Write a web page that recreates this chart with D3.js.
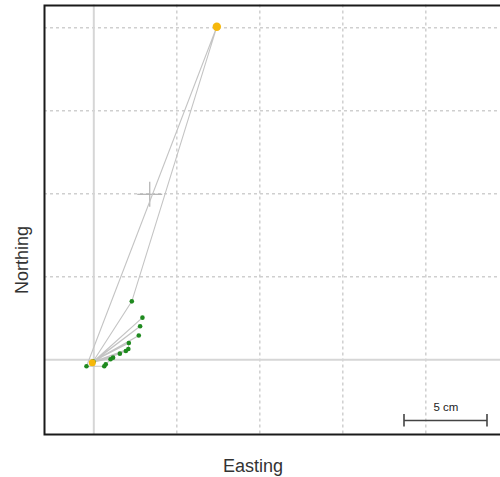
<!DOCTYPE html>
<html>
<head>
<meta charset="utf-8">
<script src="https://cdn.jsdelivr.net/npm/d3@7"></script>
<style>
    body { margin: 0; background: #fff; }
    .axis-title { font-family: "Liberation Sans", Arial, sans-serif; font-size: 18px; fill: #333; }
</style>
</head>
<body>
<div id="chart"></div>
<script>
// positions in time order (cm)
let easting  = [-0.09, 2.93, -0.05, 2.79, -0.04, 2.71, -0.06, 2.11, 2.08, -0.02, 1.93, 1.57, -0.05, 1.16, 1.01, 0.72, 0.63, -0.44, 7.41, 2.29, -0.08]
let northing = [-0.18, 2.54, -0.12, 2.02, -0.14, 1.46, -0.10, 1.01, 0.65, -0.12, 0.53, 0.37, -0.14, 0.13, 0.03, -0.27, -0.39, -0.39, 20.06, 3.52, -0.16]
// flagged readings drawn in orange
let flagged = [0, 18]

// reference crosshair
let crossE = 3.37
let crossN = 9.97

let gridTicks = [5, 10, 15, 20]
let scaleBarCm = 5

var width = 500,
    height = 477;

let xScale = d3.scaleLinear()
    .domain([-3, 24.5])
    .range([44, 500.5])

let yScale = d3.scaleLinear()
    .domain([-4.5, 21.4])
    .range([434.5, 4.56])

let svg = d3.select("#chart")
    .append("svg")
    .attr("width", width)
    .attr("height", height)

// dotted grid
svg.append("g")
    .selectAll("line")
    .data(gridTicks)
    .enter()
    .append("line")
    .attr("x1", d => xScale(d))
    .attr("x2", d => xScale(d))
    .attr("y1", yScale(21.4))
    .attr("y2", yScale(-4.5))
    .style("stroke", "#cfcfcf")
    .style("stroke-width", 1.5)
    .style("stroke-dasharray", "3,3")

svg.append("g")
    .selectAll("line")
    .data(gridTicks)
    .enter()
    .append("line")
    .attr("x1", xScale(-3))
    .attr("x2", xScale(24.5))
    .attr("y1", d => yScale(d))
    .attr("y2", d => yScale(d))
    .style("stroke", "#cfcfcf")
    .style("stroke-width", 1.5)
    .style("stroke-dasharray", "3,3")

// zero lines
svg.append("line")
    .attr("x1", xScale(0)).attr("x2", xScale(0))
    .attr("y1", yScale(21.4)).attr("y2", yScale(-4.5))
    .style("stroke", "#d6d6d6")
    .style("stroke-width", 2)

svg.append("line")
    .attr("x1", xScale(-3)).attr("x2", xScale(24.5))
    .attr("y1", yScale(0)).attr("y2", yScale(0))
    .style("stroke", "#d6d6d6")
    .style("stroke-width", 2)

// crosshair
svg.append("line")
    .attr("x1", xScale(crossE) - 12.5).attr("x2", xScale(crossE) + 12.5)
    .attr("y1", yScale(crossN)).attr("y2", yScale(crossN))
    .style("stroke", "#b0b0b0")
    .style("stroke-width", 1.2)
svg.append("line")
    .attr("x1", xScale(crossE)).attr("x2", xScale(crossE))
    .attr("y1", yScale(crossN) - 12.5).attr("y2", yScale(crossN) + 12.5)
    .style("stroke", "#b0b0b0")
    .style("stroke-width", 1.2)

let points = easting.map((e, i) => ({ e: e, n: northing[i], flag: flagged.includes(i) }))

// track
let line = d3.line()
    .x(d => xScale(d.e))
    .y(d => yScale(d.n))

svg.append("path")
    .datum(points)
    .attr("d", line)
    .style("fill", "none")
    .style("stroke", "#c4c4c4")
    .style("stroke-width", 1.1)

svg.append("g")
    .selectAll("circle")
    .data(points.filter(d => !d.flag))
    .enter()
    .append("circle")
    .attr("cx", d => xScale(d.e))
    .attr("cy", d => yScale(d.n))
    .attr("r", 2.3)
    .style("fill", "#1f8a1f")

svg.append("g")
    .selectAll("circle")
    .data(points.filter(d => d.flag))
    .enter()
    .append("circle")
    .attr("cx", d => xScale(d.e))
    .attr("cy", d => yScale(d.n))
    .attr("r", (d, i) => i == 0 ? 3.5 : 4.2)
    .style("fill", "#f6b80c")

// frame
svg.append("rect")
    .attr("x", 44.5)
    .attr("y", 5.5)
    .attr("width", 460)
    .attr("height", 429)
    .style("fill", "none")
    .style("stroke", "#1a1a1a")
    .style("stroke-width", 2)

// scale bar
let barX1 = 404
let barX2 = barX1 + (xScale(scaleBarCm) - xScale(0))
let barY = 420.5
let bar = svg.append("g").style("stroke", "#444").style("stroke-width", 1.6)
bar.append("line").attr("x1", barX1).attr("x2", barX2).attr("y1", barY).attr("y2", barY)
bar.append("line").attr("x1", barX1).attr("x2", barX1).attr("y1", barY - 6.5).attr("y2", barY + 6)
bar.append("line").attr("x1", barX2).attr("x2", barX2).attr("y1", barY - 6.5).attr("y2", barY + 6)

svg.append("text")
    .attr("x", (barX1 + barX2) / 2 + 0.5)
    .attr("y", 410.5)
    .attr("text-anchor", "middle")
    .style("font-family", "'Liberation Sans', Arial, sans-serif")
    .style("font-size", "11.5px")
    .style("fill", "#222")
    .text(scaleBarCm + " cm")

// axis titles
svg.append("text")
    .attr("x", 253)
    .attr("y", 471.5)
    .attr("text-anchor", "middle")
    .text("Easting")
    .classed("axis-title", true)

svg.append("text")
    .attr("text-anchor", "middle")
    .attr("transform", "rotate(-90)")
    .attr("x", -260)
    .attr("y", 28)
    .text("Northing")
    .classed("axis-title", true)
</script>
</body>
</html>
